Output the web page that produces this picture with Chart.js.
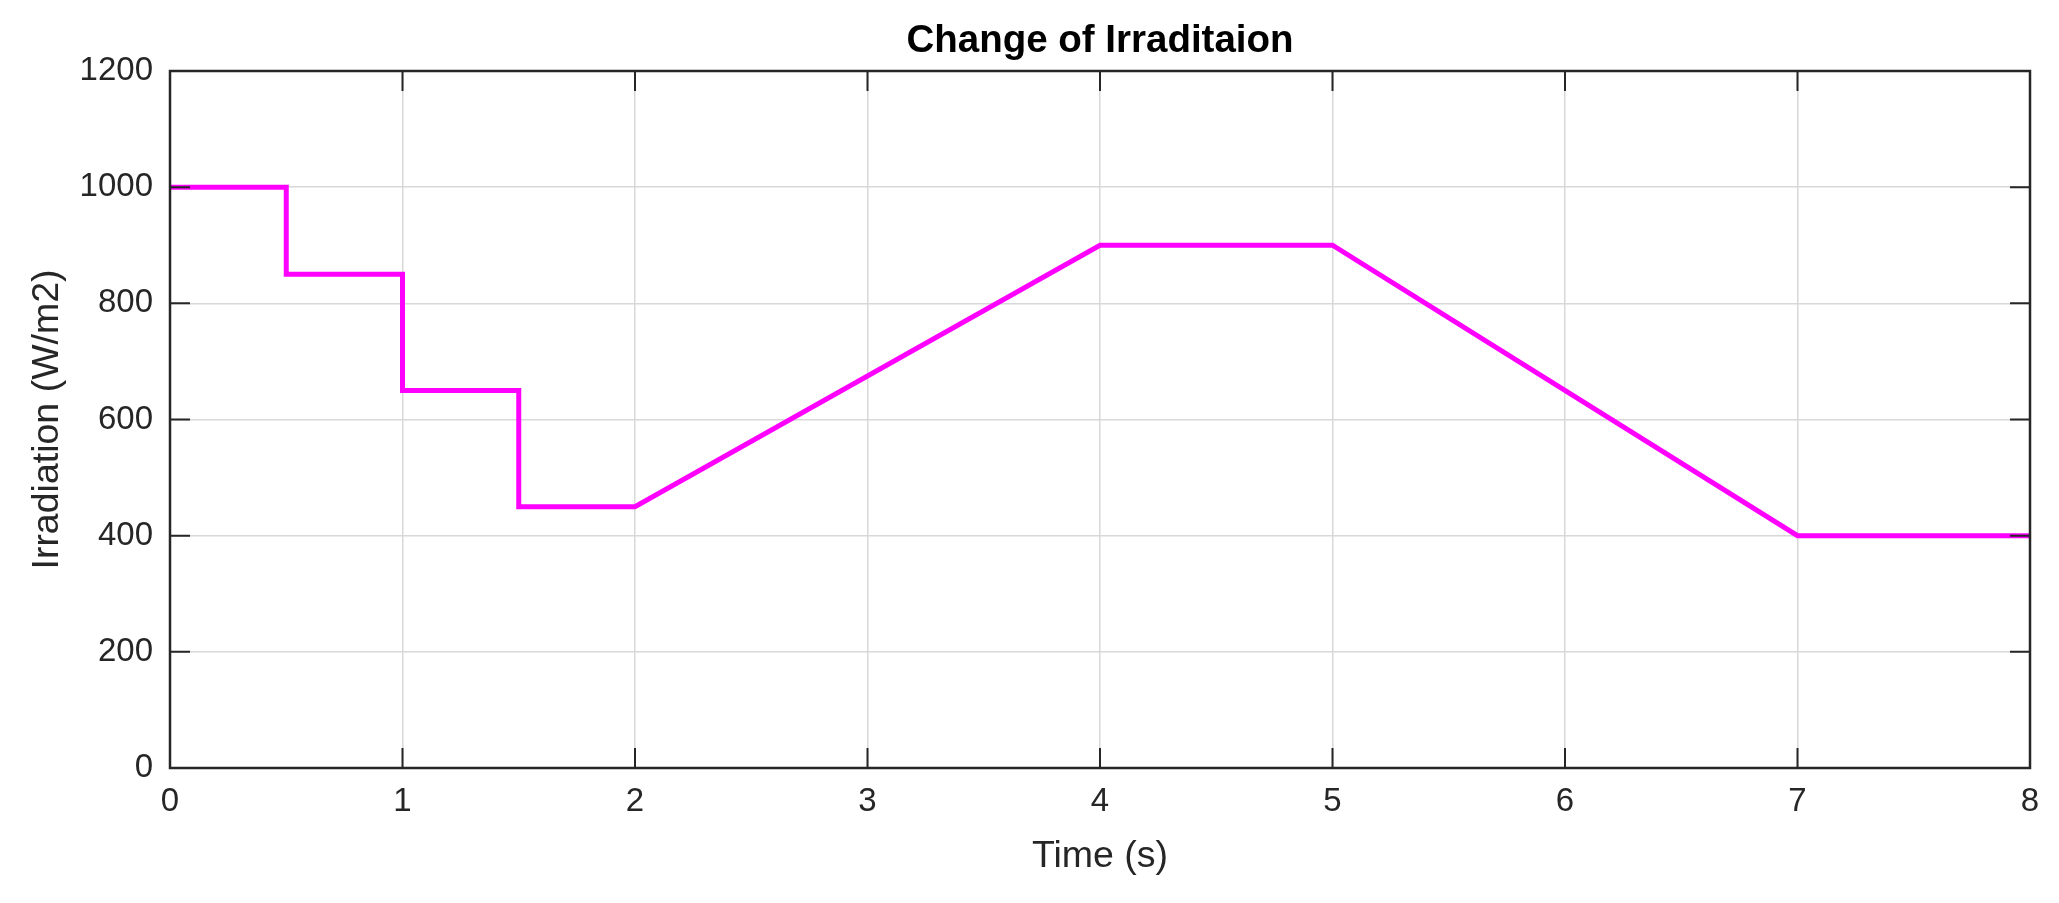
<!DOCTYPE html>
<html>
<head>
<meta charset="utf-8">
<script src="https://cdn.jsdelivr.net/npm/chart.js@4.4.1/dist/chart.umd.min.js"></script>
<style>
html,body{margin:0;padding:0;background:#fff;}
canvas{display:block;}
</style>
</head>
<body>
<canvas id="c" width="2059" height="903"></canvas>
<script>
// Data
const timeValues = [0, 0.5, 0.5, 1, 1, 1.5, 1.5, 2, 4, 5, 7, 8];
const irradianceValues = [1000, 1000, 850, 850, 650, 650, 450, 450, 900, 900, 400, 400];
const xTicks = [0, 1, 2, 3, 4, 5, 6, 7, 8];
const yTicks = [0, 200, 400, 600, 800, 1000, 1200];
const titleText = 'Change of Irraditaion';
const xLabel = 'Time (s)';
const yLabel = 'Irradiation (W/m2)';

const points = timeValues.map((t, i) => ({x: t, y: irradianceValues[i]}));
const FONT = '"Liberation Sans", Arial, Helvetica, sans-serif';
const AXIS_COLOR = '#262626';

const boxPlugin = {
  id: 'boxTicks',
  afterLayout(chart) {
    const tb = chart.titleBlock;
    if (tb) {
      tb.left = chart.chartArea.left;
      tb.right = chart.chartArea.right;
      tb.width = tb.right - tb.left;
    }
  },
  afterDraw(chart) {
    const {ctx, chartArea: a, scales} = chart;
    const xs = scales.x, ys = scales.y;
    const L = 20;
    ctx.save();
    ctx.strokeStyle = AXIS_COLOR;
    ctx.lineWidth = 2;
    ctx.beginPath();
    xTicks.forEach(v => {
      const px = xs.getPixelForValue(v);
      ctx.moveTo(px, a.bottom); ctx.lineTo(px, a.bottom - L);
      ctx.moveTo(px, a.top); ctx.lineTo(px, a.top + L);
    });
    yTicks.forEach(v => {
      const py = ys.getPixelForValue(v);
      ctx.moveTo(a.left, py); ctx.lineTo(a.left + L, py);
      ctx.moveTo(a.right, py); ctx.lineTo(a.right - L, py);
    });
    ctx.stroke();
    ctx.lineWidth = 2.5;
    ctx.strokeRect(a.left, a.top, a.right - a.left, a.bottom - a.top);
    ctx.restore();
  }
};

new Chart(document.getElementById('c'), {
  type: 'scatter',
  data: {
    datasets: [{
      data: points,
      showLine: true,
      borderColor: '#ff00ff',
      backgroundColor: '#ff00ff',
      borderWidth: 5,
      pointRadius: 0,
      tension: 0,
      borderJoinStyle: 'miter'
    }]
  },
  options: {
    responsive: false,
    animation: false,
    devicePixelRatio: 1,
    layout: {padding: {left: 0, right: 29, top: 0, bottom: 0}},
    plugins: {
      legend: {display: false},
      tooltip: {enabled: false},
      title: {
        display: true,
        text: titleText,
        color: '#000',
        font: {family: FONT, size: 38.5, weight: 'bold', lineHeight: 1},
        padding: {top: 22, bottom: 10.5}
      }
    },
    scales: {
      x: {
        type: 'linear',
        min: 0, max: 8,
        afterFit(s) { s.height = 135; },
        afterBuildTicks(s) { s.ticks = xTicks.map(v => ({value: v})); },
        ticks: {
          color: AXIS_COLOR,
          font: {family: FONT, size: 33},
          padding: 14,
          maxRotation: 0,
          autoSkip: false,
          callback: v => String(v)
        },
        grid: {color: '#d8d8d8', lineWidth: 1.5, drawTicks: false},
        border: {display: false},
        title: {
          display: true, text: xLabel, color: AXIS_COLOR,
          font: {family: FONT, size: 37.5, lineHeight: 1.2},
          padding: {top: 0, bottom: 24}
        }
      },
      y: {
        type: 'linear',
        min: 0, max: 1200,
        afterFit(s) { s.width = 170; },
        afterBuildTicks(s) { s.ticks = yTicks.map(v => ({value: v})); },
        ticks: {
          color: AXIS_COLOR,
          font: {family: FONT, size: 33},
          padding: 17,
          autoSkip: false,
          callback: v => String(v)
        },
        grid: {color: '#d8d8d8', lineWidth: 1.5, drawTicks: false},
        border: {display: false},
        title: {
          display: true, text: yLabel, color: AXIS_COLOR,
          font: {family: FONT, size: 37.5, lineHeight: 1.2},
          padding: {top: 25, bottom: 0}
        }
      }
    }
  },
  plugins: [boxPlugin]
});
</script>
</body>
</html>
